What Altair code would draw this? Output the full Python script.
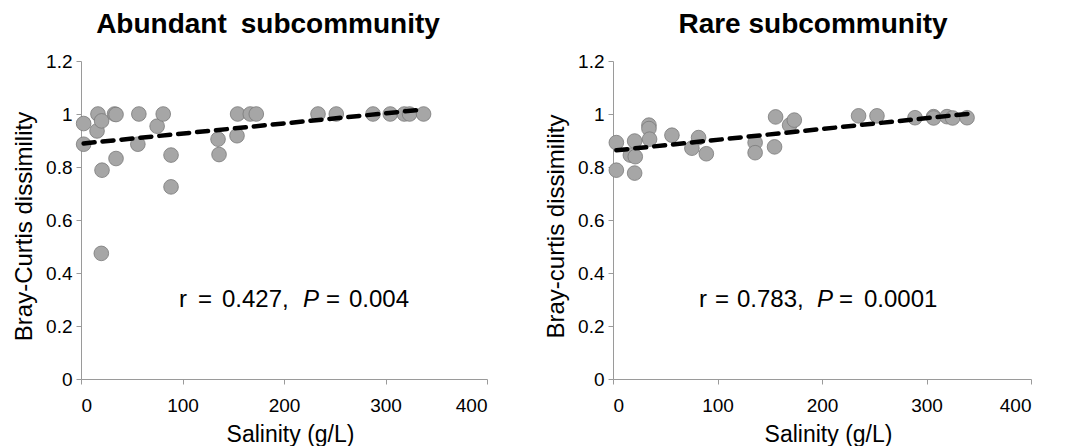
import altair as alt
import pandas as pd

# ---------------- data ----------------
ab_sal = [2.6, 2.6, 16.7, 15.8, 20.3, 20.7, 20.0, 33.0, 34.5, 34.5, 56.0, 57.0, 75.0, 81.0,
          88.7, 88.7, 135.0, 136.0, 153.7, 154.3, 166.8, 172.7, 233.5, 251.5, 287.7, 304.7,
          318.5, 323.7, 337.5]
ab_val = [0.964, 0.886, 1.0, 0.936, 0.974, 0.788, 0.474, 1.0, 0.998, 0.832, 0.886, 1.0, 0.954, 1.0,
          0.845, 0.725, 0.905, 0.847, 0.918, 1.0, 1.0, 1.0, 1.0, 1.0, 1.0, 1.0,
          1.0, 1.0, 1.0]
ab_fit_sal = [2.6, 337.5]
ab_fit_val = [0.889, 1.017]

rare_sal = [3.2, 3.2, 20.7, 16.6, 21.3, 20.7, 34.4, 34.4, 35.0, 56.4, 81.9, 75.5, 89.3,
            136.0, 136.0, 154.6, 155.6, 169.0, 173.5, 235.0, 252.6, 289.0, 306.8, 306.8,
            319.6, 325.0, 338.8]
rare_val = [0.892, 0.788, 0.898, 0.845, 0.839, 0.777, 0.958, 0.945, 0.905, 0.920, 0.911, 0.871, 0.850,
            0.892, 0.854, 0.876, 0.989, 0.958, 0.977, 0.993, 0.993, 0.986, 0.990, 0.985,
            0.990, 0.985, 0.986]
rare_fit_sal = [3.2, 342.0]
rare_fit_val = [0.863, 1.0015]

x_ticks = [0, 100, 200, 300, 400]
y_ticks = [0, 0.2, 0.4, 0.6, 0.8, 1, 1.2]

titles = ["Abundant\u2002subcommunity", "Rare subcommunity"]
y_titles = ["Bray-Curtis dissimility", "Bray-curtis dissimility"]
x_title = "Salinity (g/L)"
ab_stat = ["r", "=", "0.427,", "P", "=", "0.004"]
rare_stat = ["r", "=", "0.783,", "P", "=", "0.0001"]
stat_italic = [False, False, False, True, False, False]

FONT = "Liberation Sans"


def panel(sal, val, fit_s, fit_v, title, ytitle, stat, width, dx, stat_x):
    pts = pd.DataFrame({"s": sal, "v": val})
    fit = pd.DataFrame({"s": fit_s, "v": fit_v})
    xs = alt.Scale(domain=[0, 400], nice=False)
    ys = alt.Scale(domain=[0, 1.2], nice=False)
    xax = alt.Axis(values=x_ticks, title=x_title, grid=False, format="d",
                   labelPadding=12, titlePadding=8, titleX=width / 2 + 6)
    yax = alt.Axis(values=y_ticks, title=ytitle, grid=False, format="~g",
                   labelPadding=4, titlePadding=9, minExtent=36, maxExtent=36,
                   titleY=165, titleFontSize=24)

    points = alt.Chart(pts).mark_point(
        shape="circle", filled=True, fill="#a6a6a6", stroke="#7a7a7a",
        strokeWidth=0.8, size=215, opacity=1
    ).encode(x=alt.X("s:Q", scale=xs, axis=xax), y=alt.Y("v:Q", scale=ys, axis=yax))

    line = alt.Chart(fit).mark_line(
        color="black", strokeWidth=4.5, strokeDash=[11, 8], strokeCap="round"
    ).encode(x=alt.X("s:Q", scale=xs), y=alt.Y("v:Q", scale=ys))

    texts = []
    for tok, xo, it in zip(stat, stat_x, stat_italic):
        t = alt.Chart(pd.DataFrame({"t": [tok]})).mark_text(
            font=FONT, fontSize=24, fontStyle="italic" if it else "normal",
            align="left", baseline="alphabetic", color="black"
        ).encode(text="t:N", x=alt.value(xo), y=alt.value(246))
        texts.append(t)

    return alt.layer(points, line, *texts).properties(
        width=width, height=318,
        title=alt.TitleParams(title, fontSize=28, font=FONT, fontWeight="bold",
                              anchor="middle", dx=dx, baseline="alphabetic", offset=-9)
    )


left = panel(ab_sal, ab_val, ab_fit_sal, ab_fit_val, titles[0], y_titles[0], ab_stat,
             406, -16, [98, 117, 141, 222, 245, 268])
right = panel(rare_sal, rare_val, rare_fit_sal, rare_fit_val, titles[1], y_titles[1], rare_stat,
              418, -9, [86, 102, 124, 204, 226, 251])

chart = alt.hconcat(left, right, spacing=126, bounds="flush").properties(
    padding={"left": 4, "top": 3, "right": 5, "bottom": 0}
).configure_view(stroke=None).configure_axis(
    domainColor="#9a9a9a", tickColor="#9a9a9a", tickSize=5, domainWidth=1,
    labelFont=FONT, titleFont=FONT, labelFontSize=19, titleFontSize=23,
    labelColor="black", titleColor="black", titleFontWeight="normal"
)

chart.save("out.html", embed_options={"renderer": "svg", "actions": False})
